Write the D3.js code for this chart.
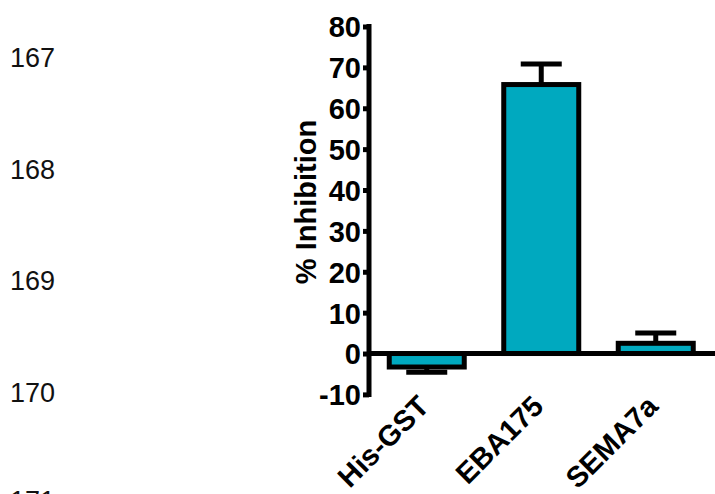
<!DOCTYPE html>
<html>
<head>
<meta charset="utf-8">
<script src="https://cdn.jsdelivr.net/npm/d3@7"></script>
<style>
  html, body { margin: 0; padding: 0; background: #fff; }
  svg { display: block; }
</style>
</head>
<body>
<svg id="chart" width="715" height="494"></svg>
<script>
const categories = ["His-GST", "EBA175", "SEMA7a"];
const meanValues = [-3.3, 65.8, 2.5];
const errorValues = [1.3, 5.0, 2.5];
const yTicks = [-10, 0, 10, 20, 30, 40, 50, 60, 70, 80];
const lineNumbers = ["167", "168", "169", "170", "171"];
const lineNumberY = [67, 178.5, 290, 401.5, 510];

const svg = d3.select("#chart");
const font = "Arial, 'Liberation Sans', Helvetica, sans-serif";

// page line numbers
svg.append("g").selectAll("text").data(lineNumbers).join("text")
  .attr("x", 10).attr("y", (d, i) => lineNumberY[i])
  .attr("font-family", font).attr("font-size", 27).attr("fill", "#111")
  .text(d => d);

const y = d3.scaleLinear().domain([-10, 80]).range([394.4, 26.5]);
const x = d3.scaleBand().domain(categories).range([369.5, 713])
  .paddingInner(0.345).paddingOuter(0.1725);

const axisX = 369;
const sw = 5;

// bars
const bars = svg.append("g");
categories.forEach((c, i) => {
  const v = meanValues[i];
  bars.append("rect")
    .attr("x", x(c)).attr("width", x.bandwidth())
    .attr("y", Math.min(y(v), y(0))).attr("height", Math.abs(y(v) - y(0)))
    .attr("fill", "#00A9BF").attr("stroke", "#000").attr("stroke-width", sw);
  const cx = x(c) + x.bandwidth() / 2;
  const e = v >= 0 ? v + errorValues[i] : v - errorValues[i];
  bars.append("line").attr("x1", cx).attr("x2", cx)
    .attr("y1", y(v)).attr("y2", y(e)).attr("stroke", "#000").attr("stroke-width", sw);
  bars.append("line").attr("x1", cx - 20.5).attr("x2", cx + 20.5)
    .attr("y1", y(e)).attr("y2", y(e)).attr("stroke", "#000").attr("stroke-width", sw);
});

// x axis line at zero
svg.append("line").attr("x1", axisX).attr("x2", 715)
  .attr("y1", y(0)).attr("y2", y(0)).attr("stroke", "#000").attr("stroke-width", sw);

// y axis
const yAxis = d3.axisLeft(y).tickValues(yTicks).tickSize(6).tickPadding(2).tickFormat(d => String(d));
const gy = svg.append("g").attr("transform", `translate(${axisX},0)`).call(yAxis);
gy.select(".domain").attr("d", `M0,${y(-10) + sw/2}V${y(80) - sw/2}`)
  .attr("stroke", "#000").attr("stroke-width", sw).attr("fill", "none");
gy.selectAll(".tick line").attr("stroke", "#000").attr("stroke-width", sw);
gy.selectAll(".tick text").attr("font-family", font).attr("font-size", 29)
  .attr("font-weight", "bold").attr("fill", "#000").attr("dy", "0.36em");

// y title
svg.append("text")
  .attr("transform", `translate(316,${(117 + 287) / 2}) rotate(-90)`)
  .attr("text-anchor", "middle")
  .attr("font-family", font).attr("font-size", 29).attr("font-weight", "bold")
  .text("% Inhibition");

// x labels
svg.append("g").selectAll("text").data(categories).join("text")
  .attr("transform", d => `translate(${x(d) + x.bandwidth() / 2 + 4},408) rotate(-45)`)
  .attr("text-anchor", "end")
  .attr("font-family", font).attr("font-size", 29).attr("font-weight", "bold")
  .text(d => d);
</script>
</body>
</html>
